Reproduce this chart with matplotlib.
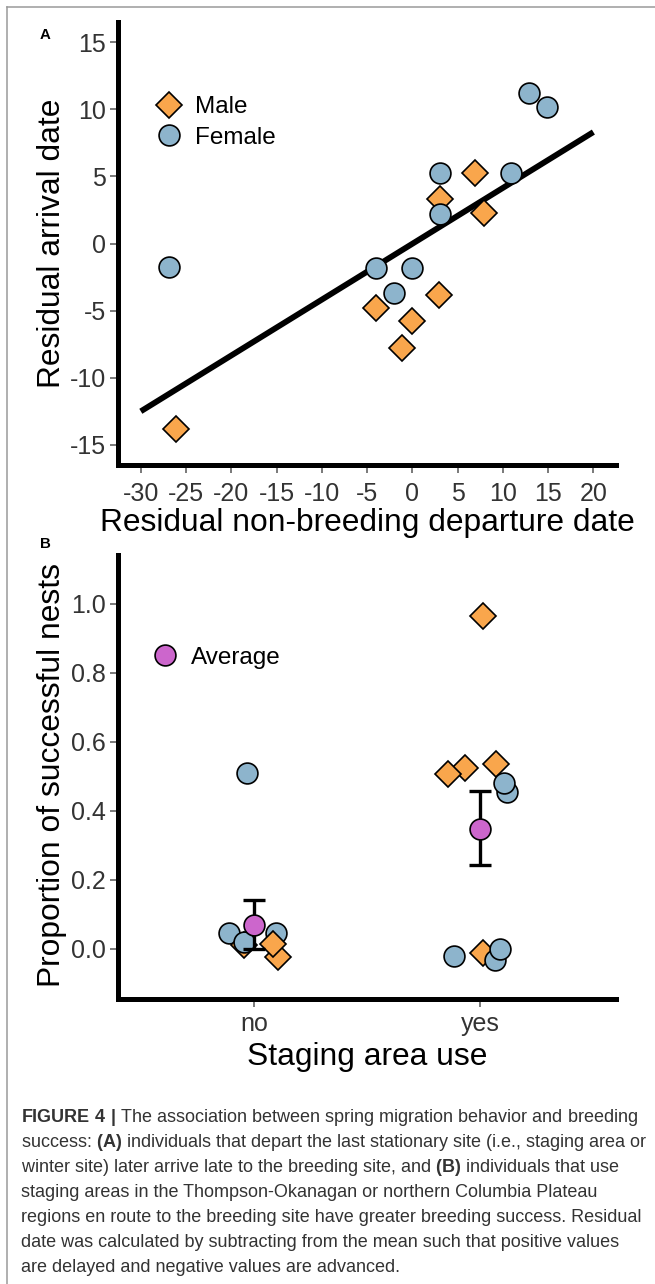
import numpy as np
import matplotlib
matplotlib.use('Agg')
import matplotlib.pyplot as plt
from matplotlib.lines import Line2D

# panel A: residual non-breeding departure vs residual arrival (days)
male_dep = [-26.1, -4.0, 0.0, -1.1, 2.9, 3.0, 6.95, 7.95]
male_arr = [-13.8, -4.8, -5.75, -7.8, -3.8, 3.3, 5.25, 2.25]
female_dep = [-26.9, -4.0, 0.0, -2.0, 3.0, 3.0, 10.9, 12.9, 14.9]
female_arr = [-1.75, -1.8, -1.8, -3.7, 5.25, 2.2, 5.25, 11.2, 10.2]
fit_x = [-30, 20]
fit_y = [-12.5, 8.3]
dep_ticks = [-30, -25, -20, -15, -10, -5, 0, 5, 10, 15, 20]
arr_ticks = [-15, -10, -5, 0, 5, 10, 15]

# panel B: nest success by staging area use (points listed in drawing order)
stage_groups = ['no', 'yes']
b_pos = [0.969, 0.888, 0.954, 0.958, 1.099, 1.106, 1.086,
         1.934, 1.857, 2.013, 2.068, 2.119, 2.105, 1.884, 2.013, 2.064, 2.086]
b_prop = [0.511, 0.046, 0.01, 0.021, 0.046, -0.022, 0.015,
          0.524, 0.507, 0.966, 0.535, 0.456, 0.48, -0.02, -0.011, -0.032, 0.0]
b_sex = ['F', 'F', 'M', 'F', 'F', 'M', 'M',
         'M', 'M', 'M', 'M', 'F', 'F', 'F', 'M', 'F', 'F']
avg_prop = [0.07, 0.348]
avg_low = [0.0, 0.243]
avg_high = [0.142, 0.458]
prop_ticks = [0.0, 0.2, 0.4, 0.6, 0.8, 1.0]

ORANGE = '#F9A64C'
BLUE = '#8DB4CC'
PURPLE = '#CC66CC'
TICKCOL = '#333333'
CAP_FONT = 'Liberation Sans'

plt.rcParams['font.family'] = ['Liberation Sans', 'DejaVu Sans']
plt.rcParams['axes.unicode_minus'] = False
plt.rcParams['mathtext.fontset'] = 'custom'
plt.rcParams['mathtext.rm'] = CAP_FONT
plt.rcParams['mathtext.bf'] = CAP_FONT + ':bold'

W, H = 655, 1284
fig = plt.figure(figsize=(W / 100, H / 100), dpi=100)

styles = {'M': dict(marker='D', ms=13, mfc=ORANGE),
          'F': dict(marker='o', ms=15, mfc=BLUE)}


def px_axes(left, right, top, bottom):
    return fig.add_axes([left / W, 1 - bottom / H, (right - left) / W, (bottom - top) / H])


def style_axes(ax, xpad):
    for side in ['top', 'right']:
        ax.spines[side].set_visible(False)
    for side in ['left', 'bottom']:
        ax.spines[side].set_linewidth(3.6)
        ax.spines[side].set_capstyle('projecting')
    ax.tick_params(direction='out', length=5.8, width=1.1, color='#555555',
                   labelsize=18, labelcolor=TICKCOL)
    ax.tick_params(axis='x', pad=xpad)
    ax.tick_params(axis='y', pad=3)


# ---- panel A
axA = px_axes(118.2, 616, 22, 465)
axA.plot(fit_x, fit_y, color='black', lw=4.2, solid_capstyle='butt', zorder=2)
axA.plot(male_dep, male_arr, ls='none', mec='black', mew=1.2, label='Male',
         zorder=3, **styles['M'])
axA.plot(female_dep, female_arr, ls='none', mec='black', mew=1.2, label='Female',
         zorder=4, **styles['F'])
axA.set_xlim(-32.5, 22.5)
axA.set_ylim(-16.5, 16.5)
axA.set_xticks(dep_ticks)
axA.set_yticks(arr_ticks)
style_axes(axA, 6.5)
axA.set_xlabel('Residual non-breeding departure date', fontsize=22.9)
axA.set_ylabel('Residual arrival date', fontsize=22.9)
axA.xaxis.set_label_coords(0.5, -0.097)
axA.yaxis.set_label_coords(-0.1035, 0.5)
axA.legend(loc='center left', bbox_to_anchor=(0.078, 0.773), frameon=False,
           fontsize=17.5, handlelength=1.0, handletextpad=0.58, labelspacing=0.36,
           borderpad=0, borderaxespad=0, numpoints=1)

# ---- panel B
axB = px_axes(118.2, 616, 555, 999.3)
for x, y, s in zip(b_pos, b_prop, b_sex):
    axB.plot([x], [y], ls='none', mec='black', mew=1.2, zorder=3, **styles[s])
grp_x = np.arange(1, len(stage_groups) + 1)
avg = np.array(avg_prop)
yerr = [avg - np.array(avg_low), np.array(avg_high) - avg]
axB.errorbar(grp_x, avg, yerr=yerr, fmt='none', ecolor='black', elinewidth=2.4,
             capsize=8.2, capthick=2.4, zorder=4)
axB.plot(grp_x, avg, ls='none', marker='o', ms=15, mfc=PURPLE, mec='black', mew=1.2,
         label='Average', zorder=5)
axB.set_xlim(0.4, 2.6)
axB.set_ylim(-0.146, 1.142)
axB.set_xticks(grp_x)
axB.set_xticklabels(stage_groups)
axB.set_yticks(prop_ticks)
axB.set_yticklabels(['%.1f' % v for v in prop_ticks])
style_axes(axB, 3.6)
axB.set_xlabel('Staging area use', fontsize=22.9)
axB.set_ylabel('Proportion of successful nests', fontsize=22.9)
axB.xaxis.set_label_coords(0.5, -0.095)
axB.yaxis.set_label_coords(-0.1035, 0.505)
axB.legend(loc='center left', bbox_to_anchor=(0.0697, 0.769), frameon=False,
           fontsize=17.5, handlelength=1.0, handletextpad=0.58,
           borderpad=0, borderaxespad=0, numpoints=1)

# panel letters
fig.text(45.5 / W, 1 - 39 / H, 'A', ha='center', va='baseline', fontsize=10.8,
         weight='bold')
fig.text(45.5 / W, 1 - 548.3 / H, 'B', ha='center', va='baseline', fontsize=10.8,
         weight='bold')

# page frame (top and left edge)
fig.add_artist(Line2D([7 / W, 1], [1 - 6.5 / H, 1 - 6.5 / H], color='#9a9a9a', lw=1.1))
fig.add_artist(Line2D([7 / W, 7 / W], [0, 1 - 6.5 / H], color='#9a9a9a', lw=1.1))

# caption
cap_lines = [
    r"$\mathbf{FIGURE\ 4\ |}$ The association between spring migration behavior and breeding",
    r"success: $\mathbf{(A)}$ individuals that depart the last stationary site (i.e., staging area or",
    r"winter site) later arrive late to the breeding site, and $\mathbf{(B)}$ individuals that use",
    "staging areas in the Thompson-Okanagan or northern Columbia Plateau",
    "regions en route to the breeding site have greater breeding success. Residual",
    "date was calculated by subtracting from the mean such that positive values",
    "are delayed and negative values are advanced.",
]
for i, line in enumerate(cap_lines):
    fig.text(21 / W, 1 - (1121.7 + 25.1 * i) / H, line, family=CAP_FONT,
             fontsize=13.0, color='#333333', va='baseline', ha='left')

fig.savefig('out.png', dpi=100)
